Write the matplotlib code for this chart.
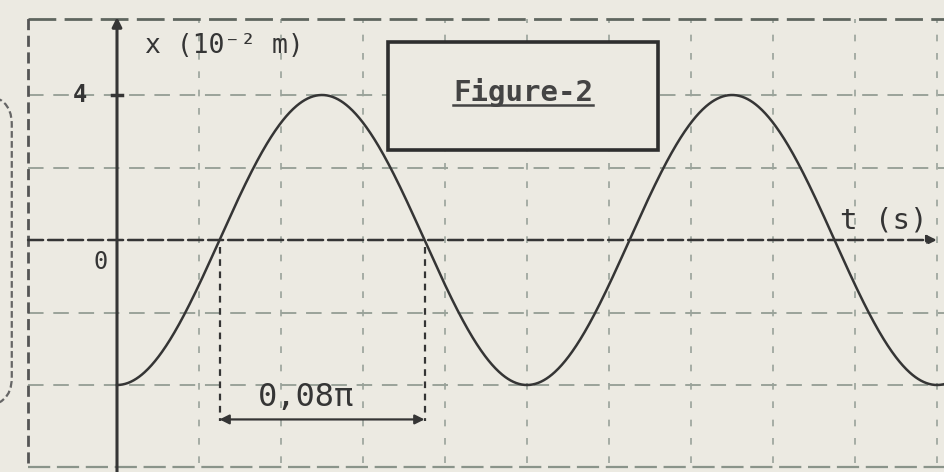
import numpy as np
import matplotlib.pyplot as plt
from matplotlib.patches import FancyBboxPatch, Rectangle

# values
amplitude = 4.0            # x in 10^-2 m
half_period = 0.08 * np.pi # s, marked by the double arrow
period = 2 * half_period
phase = np.pi              # curve starts at the minimum
n_cells = 10               # vertical grid cells shown
y_grid = [-4, -2, 2, 4]
y_ticks = [4]
y_tick_labels = ["4"]

paper = "#eceae2"
ink = "#353535"
grid_col = "#9aa39a"

cell = period / 5
px_x = 815.7 / 1.0   # px per second
px_y = 36.25         # px per unit
x0, y0 = 117, 240    # origin in pixels

fig = plt.figure(figsize=(9.45, 4.72), dpi=100, facecolor=paper)
ax = fig.add_axes([0, 0, 1, 1])
ax.set_facecolor(paper)
ax.set_xlim(-x0 / px_x, (945 - x0) / px_x)
ax.set_ylim(-(472 - y0) / px_y, y0 / px_y)
ax.axis("off")

# grid
for k in range(1, n_cells + 1):
    ax.axvline(k * cell, ymin=0.02, ymax=0.96, color=grid_col, lw=1.2,
               ls=(0, (4, 7)), zorder=1)
for g in y_grid:
    ax.axhline(g, xmin=0.03, color=grid_col, lw=1.4, ls=(0, (8, 5)), zorder=1)
ax.axhline(6.1, xmin=0.03, color="#5f665f", lw=2, ls=(0, (10, 3)), zorder=1)
ax.axhline(-6.25, xmin=0.03, color="#8a948a", lw=1.6, ls=(0, (10, 3)), zorder=1)
ax.axvline(-0.109, ymin=0.02, ymax=0.965, color="#555", lw=2, ls=(0, (4, 2)), zorder=1)

# bracket of a neighbouring box, cut by the left edge
ax.add_patch(FancyBboxPatch((-0.3, -4.6), 0.171, 8.6,
                            boxstyle="round,pad=0,rounding_size=0.04",
                            fill=False, ec="#666", lw=1.6, ls=(0, (3, 1.5)),
                            mutation_aspect=20, zorder=2))

# axes with arrows
ax.annotate("", xy=(0, 6.15), xytext=(0, -6.4),
            arrowprops=dict(arrowstyle="-|>", color=ink, lw=2.2,
                            mutation_scale=14, shrinkA=0, shrinkB=0), zorder=3)
ax.annotate("", xy=(1.005, 0), xytext=(-0.109, 0),
            arrowprops=dict(arrowstyle="-|>", color=ink, lw=1.8, ls=(0, (6, 2)),
                            mutation_scale=14, shrinkA=0, shrinkB=0), zorder=3)
for yt, lab in zip(y_ticks, y_tick_labels):
    ax.plot([-0.006, 0.006], [yt, yt], color=ink, lw=2.5, zorder=3)
    ax.text(-0.045, yt, lab, fontsize=17, family="DejaVu Sans Mono",
            color=ink, ha="center", va="center", fontweight="bold")
ax.text(-0.02, -0.6, "0", fontsize=17, family="DejaVu Sans Mono",
        color=ink, ha="center", va="center")

# the curve
t = np.linspace(0, ax.get_xlim()[1], 1200)
x = amplitude * np.cos(2 * np.pi * t / period + phase)
ax.plot(t, x, color=ink, lw=1.8, zorder=4)

# half period marker
t1, t2 = period / 4, 3 * period / 4
for tv in (t1, t2):
    ax.plot([tv, tv], [-0.2, -5.0], color=ink, lw=1.6, ls=(0, (3, 2.5)), zorder=3)
ax.annotate("", xy=(t1, -4.95), xytext=(t2, -4.95),
            arrowprops=dict(arrowstyle="<|-|>", color=ink, lw=1.6,
                            mutation_scale=14, shrinkA=0, shrinkB=0), zorder=4)
ax.text((t1 + t2) / 2 - 0.02, -4.35, "0,08π", fontsize=23,
        family="DejaVu Sans Mono", color=ink, ha="center", va="center")

# labels
ax.text(0.034, 5.35, "x (10⁻² m)", fontsize=19, family="DejaVu Sans Mono",
        color=ink, ha="left", va="center")
ax.text(0.886, 0.55, "t (s)", fontsize=21, family="DejaVu Sans Mono",
        color=ink, ha="left", va="center")

# title box
bx0, bx1 = (388 - x0) / px_x, (658 - x0) / px_x
by0, by1 = (y0 - 150) / px_y, (y0 - 42) / px_y
ax.add_patch(Rectangle((bx0, by0), bx1 - bx0, by1 - by0, fc=paper,
                       ec="#2e2e2e", lw=2.6, zorder=5))
title = ax.text((bx0 + bx1) / 2, (by0 + by1) / 2 + 0.1, "Figure-2",
                fontsize=21, family="DejaVu Sans Mono", color="#444",
                ha="center", va="center", fontweight="bold", zorder=6)
fig.canvas.draw()
bb = title.get_window_extent().transformed(ax.transData.inverted())
ax.plot([bb.x0, bb.x1], [bb.y0 + 0.05, bb.y0 + 0.05], color="#444", lw=1.8, zorder=6)

fig.savefig("out.png", dpi=100, facecolor=paper)
